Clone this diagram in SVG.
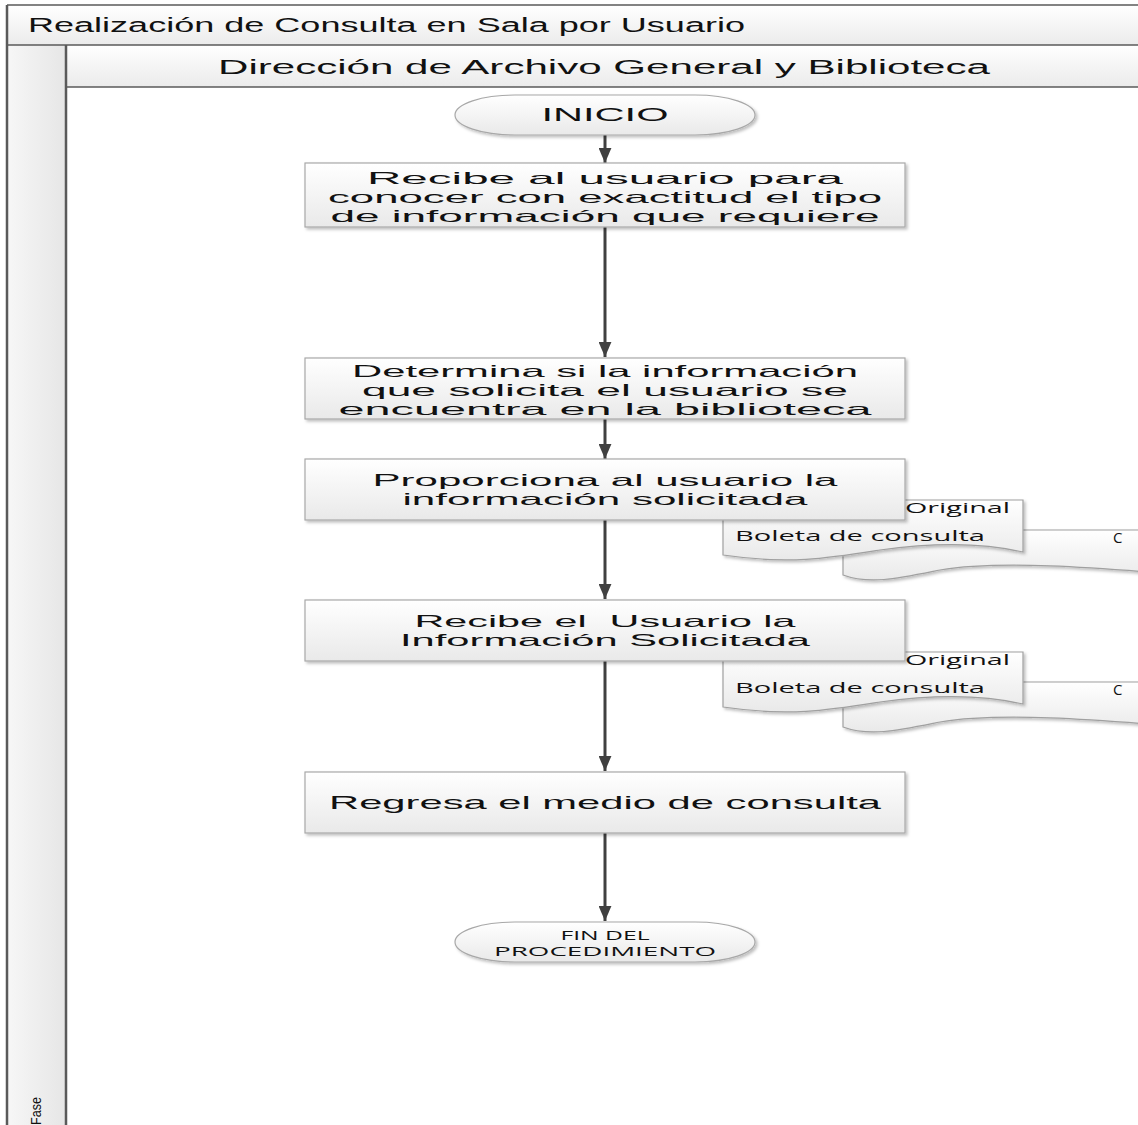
<svg xmlns="http://www.w3.org/2000/svg" width="1138" height="1125" viewBox="0 0 1138 1125">
<defs>
<linearGradient id="hdr" x1="0" y1="0" x2="0" y2="1"><stop offset="0" stop-color="#ffffff"/><stop offset="1" stop-color="#ebebeb"/></linearGradient>
<linearGradient id="col" x1="0" y1="0" x2="1" y2="0"><stop offset="0" stop-color="#f7f7f7"/><stop offset="1" stop-color="#e6e6e6"/></linearGradient>
<linearGradient id="box" x1="0" y1="0" x2="0" y2="1"><stop offset="0" stop-color="#ffffff"/><stop offset="1" stop-color="#e9e9e9"/></linearGradient>
<filter id="sh" x="-5%" y="-10%" width="112%" height="130%"><feDropShadow dx="2" dy="2" stdDeviation="1.5" flood-color="#000" flood-opacity="0.25"/></filter>
<marker id="ah" viewBox="0 0 14 12" refX="14" refY="6" markerWidth="15" markerHeight="13" markerUnits="userSpaceOnUse" orient="auto"><path d="M0,0 L14,6 L0,12 Z" fill="#404040"/></marker>
<style>
.t{font-family:"Liberation Sans",Arial,sans-serif;fill:#111;}
.c{font-family:"Open Sans","Liberation Sans",sans-serif;fill:#111;}
.b{font-size:16.5px;text-anchor:middle;}
.bx{fill:url(#box);stroke:#a8a8a8;stroke-width:1.2;}
.doc{fill:url(#box);stroke:#a0a0a0;stroke-width:1.2;}
.ar{stroke:#404040;stroke-width:3;fill:none;marker-end:url(#ah);}
.fr{stroke:#5a5a5a;fill:none;}
</style>
</defs>
<rect width="1138" height="1125" fill="#fff"/>
<g id="pool">
<rect x="7" y="5" width="1140" height="40" fill="url(#hdr)"/>
<rect x="7" y="45" width="59" height="1085" fill="url(#col)"/>
<rect x="66" y="45" width="1080" height="42" fill="url(#hdr)"/>
<line class="fr" x1="7" y1="5" x2="1138" y2="5" stroke-width="1.5"/>
<line class="fr" x1="7" y1="45" x2="1138" y2="45" stroke-width="1.5"/>
<line class="fr" x1="66" y1="87" x2="1138" y2="87" stroke-width="1.5"/>
<line class="fr" x1="7" y1="5" x2="7" y2="1125" stroke-width="2.5"/>
<line class="fr" x1="66" y1="45" x2="66" y2="1125" stroke-width="2.5"/>
<text class="t" x="28" y="32" font-size="20" textLength="717" lengthAdjust="spacingAndGlyphs">Realización de Consulta en Sala por Usuario</text>
<text class="t" x="218" y="74" font-size="20" textLength="772" lengthAdjust="spacingAndGlyphs">Dirección de Archivo General y Biblioteca</text>
<text class="t" transform="translate(41,1111) rotate(-90)" font-size="15" text-anchor="middle" textLength="28" lengthAdjust="spacingAndGlyphs">Fase</text>
</g>
<g id="connectors">
<line class="ar" x1="605" y1="135" x2="605" y2="163"/>
<line class="ar" x1="605" y1="227" x2="605" y2="357"/>
<line class="ar" x1="605" y1="419" x2="605" y2="459"/>
<line class="ar" x1="605" y1="520" x2="605" y2="599"/>
<line class="ar" x1="605" y1="661" x2="605" y2="771"/>
<line class="ar" x1="605" y1="833" x2="605" y2="921"/>
</g>
<g id="doc1">
<path class="doc" filter="url(#sh)" d="M843,530 H1160 V573 C1100,568 1000,560 940,570 C900,578 870,585 843,575 Z"/>
<text class="c" x="1113" y="543" font-size="15">C</text>
<path class="doc" filter="url(#sh)" d="M723,500 H1023 V552 C980,542 930,543 880,550 C830,558 790,565 723,555 Z"/>
<text class="c" x="905" y="513" font-size="14" textLength="105" lengthAdjust="spacingAndGlyphs">Original</text>
<text class="c" x="735" y="541" font-size="14" textLength="250" lengthAdjust="spacingAndGlyphs">Boleta de consulta</text>
</g>
<g id="doc2">
<path class="doc" filter="url(#sh)" d="M843,682 H1160 V725 C1100,720 1000,712 940,722 C900,730 870,737 843,727 Z"/>
<text class="c" x="1113" y="695" font-size="15">C</text>
<path class="doc" filter="url(#sh)" d="M723,652 H1023 V704 C980,694 930,695 880,702 C830,710 790,717 723,707 Z"/>
<text class="c" x="905" y="665" font-size="14" textLength="105" lengthAdjust="spacingAndGlyphs">Original</text>
<text class="c" x="735" y="693" font-size="14" textLength="250" lengthAdjust="spacingAndGlyphs">Boleta de consulta</text>
</g>
<g id="inicio">
<rect class="bx" filter="url(#sh)" x="455" y="95" width="300" height="40" rx="60" ry="20"/>
<text class="t" x="605" y="121" font-size="18" text-anchor="middle" textLength="127" lengthAdjust="spacingAndGlyphs">INICIO</text>
</g>
<g id="n1">
<rect class="bx" filter="url(#sh)" x="305" y="163" width="600" height="64"/>
<text class="t b" x="605" y="184" textLength="476" lengthAdjust="spacingAndGlyphs">Recibe al usuario para</text>
<text class="t b" x="605" y="203" textLength="554" lengthAdjust="spacingAndGlyphs">conocer con exactitud el tipo</text>
<text class="t b" x="605" y="222" textLength="549" lengthAdjust="spacingAndGlyphs">de información que requiere</text>
</g>
<g id="n2">
<rect class="bx" filter="url(#sh)" x="305" y="358" width="600" height="61"/>
<text class="t b" x="605" y="377" textLength="506" lengthAdjust="spacingAndGlyphs">Determina si la información</text>
<text class="t b" x="605" y="396" textLength="486" lengthAdjust="spacingAndGlyphs">que solicita el usuario se</text>
<text class="t b" x="605" y="415" textLength="533" lengthAdjust="spacingAndGlyphs">encuentra en la biblioteca</text>
</g>
<g id="n3">
<rect class="bx" filter="url(#sh)" x="305" y="459" width="600" height="61"/>
<text class="t b" x="605" y="485.5" textLength="465" lengthAdjust="spacingAndGlyphs">Proporciona al usuario la</text>
<text class="t b" x="605" y="504.5" textLength="405" lengthAdjust="spacingAndGlyphs">información solicitada</text>
</g>
<g id="n4">
<rect class="bx" filter="url(#sh)" x="305" y="600" width="600" height="61"/>
<text class="t b" x="605" y="627" textLength="381" lengthAdjust="spacingAndGlyphs" xml:space="preserve">Recibe el  Usuario la</text>
<text class="t b" x="605" y="646" textLength="410" lengthAdjust="spacingAndGlyphs">Información Solicitada</text>
</g>
<g id="n5">
<rect class="bx" filter="url(#sh)" x="305" y="772" width="600" height="61"/>
<text class="t" x="605" y="809" font-size="19" text-anchor="middle" textLength="552" lengthAdjust="spacingAndGlyphs">Regresa el medio de consulta</text>
</g>
<g id="fin">
<rect class="bx" filter="url(#sh)" x="455" y="922" width="300" height="40" rx="60" ry="20"/>
<text class="c" x="605" y="940" font-size="13" text-anchor="middle" textLength="89" lengthAdjust="spacingAndGlyphs">FIN DEL</text>
<text class="c" x="605" y="956" font-size="13" text-anchor="middle" textLength="222" lengthAdjust="spacingAndGlyphs">PROCEDIMIENTO</text>
</g>
</svg>
